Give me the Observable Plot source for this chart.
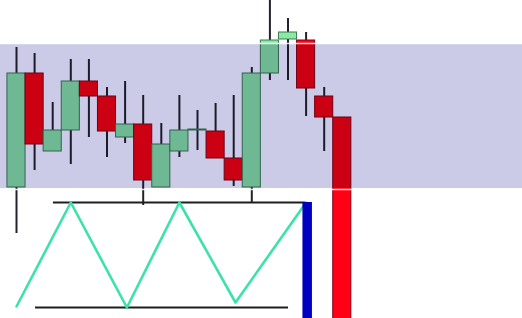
<!DOCTYPE html>
<html>
<head>
<meta charset="utf-8">
<script src="https://cdn.jsdelivr.net/npm/d3@7"></script>
<script src="https://cdn.jsdelivr.net/npm/@observablehq/plot@0.6"></script>
<style>
  html, body { margin: 0; padding: 0; background: #ffffff; }
  #chart svg { display: block; }
</style>
</head>
<body>
<div id="chart"></div>
<script>
// Candle data (arbitrary price units)
const opens  = [131, 245, 167, 188, 237, 222, 181, 194, 131, 167, 188, 187, 160, 131, 245, 279, 278, 222, 201];
const highs  = [271, 265, 216, 259, 259, 231, 237, 223, 195, 223, 208, 215, 223, 251, 330, 300, 286, 231, 201];
const lows   = [ 85, 148, 167, 154, 181, 161, 175, 113, 131, 161, 168, 160, 132, 116, 238, 238, 202, 167, -5];
const closes = [245, 174, 188, 237, 222, 187, 194, 138, 174, 188, 189, 160, 138, 245, 278, 286, 230, 201, -5];

// Shaded zone
const zoneLow = 130;
const zoneHigh = 274;

// Pattern: zigzag (index, price)
const zigIndex = [0, 3, 6.1, 9, 12.1, 16];
const zigPrice = [12, 116, 11, 116, 16, 116];

// Horizontal levels
const levelPrice = [116, 11];
const levelStart = [2.04, 1.05];
const levelEnd   = [15.97, 15.03];

// Breakout marker
const breakIndex = 16.06;
const breakTop = 116;
const breakBottom = -5;

const candles = opens.map((o, i) => ({
  i, open: o, high: highs[i], low: lows[i], close: closes[i],
  up: closes[i] >= o
}));
const zig = zigIndex.map((x, k) => ({x, y: zigPrice[k]}));
const levels = levelPrice.map((y, k) => ({y, x1: levelStart[k], x2: levelEnd[k]}));

const W = 522, H = 318;

const chart = Plot.plot({
  width: W,
  height: H,
  margin: 0,
  style: {background: "#ffffff"},
  x: {type: "linear", domain: [-0.884, 27.956], range: [0, W], axis: null},
  y: {type: "linear", domain: [0, H], range: [H, 0], axis: null},
  marks: [
    Plot.ruleX(candles, {x: "i", y1: "low", y2: "high", stroke: "#22222e", strokeWidth: 2}),
    Plot.rect(candles, {
      x1: d => d.i - 0.5, x2: d => d.i + 0.5,
      y1: "open", y2: "close",
      fill: d => d.up ? "#8ae9a2" : "#ff0014",
      stroke: d => d.up ? "#3f7a55" : "#8a0018",
      strokeWidth: 1,
      inset: 0
    }),
    Plot.rect([{lo: zoneLow, hi: zoneHigh}], {
      y1: "lo", y2: "hi", fill: "#cbcbe8", mixBlendMode: "multiply", ariaLabel: "band"
    }),
    Plot.ruleY([zoneLow - 1, zoneHigh + 1], {stroke: "#ffffff", strokeWidth: 1.3, strokeOpacity: 0.85}),
    Plot.ruleY(levels, {y: "y", x1: "x1", x2: "x2", stroke: "#1e1e1e", strokeWidth: 2}),
    Plot.line(zig, {x: "x", y: "y", stroke: "#3de2ab", strokeWidth: 2.6}),
    Plot.ruleX([breakIndex], {y1: breakTop, y2: breakBottom, stroke: "#0000c0", strokeWidth: 9.5})
  ]
});

d3.select(chart).select('g[aria-label="band"]').style("mix-blend-mode", "multiply");
document.getElementById("chart").appendChild(chart);
</script>
</body>
</html>
